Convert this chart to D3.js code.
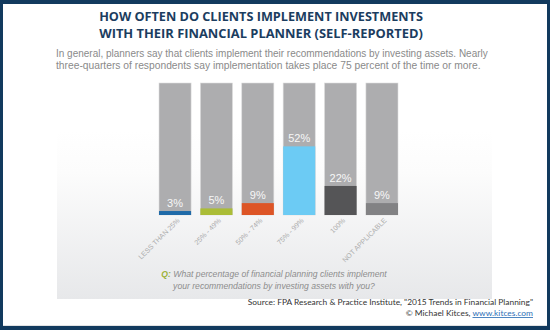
<!DOCTYPE html>
<html>
<head>
<meta charset="utf-8">
<script src="https://cdn.jsdelivr.net/npm/d3@7/dist/d3.min.js"></script>
<style>
  html, body { margin: 0; padding: 0; background: #fff; }
  svg { display: block; }
</style>
</head>
<body>
<svg id="chart" width="550" height="330"></svg>
<script>
// Survey answers and their shares (percent of respondents)
const categories = ["LESS THAN 25%", "25% - 49%", "50% - 74%", "75% - 99%", "100%", "NOT APPLICABLE"];
const values = [3, 5, 9, 52, 22, 9];
const barColors = ["#1f6aa8", "#abbd37", "#dd5526", "#6ccbf4", "#555557", "#828284"];
const titleLines = ["HOW OFTEN DO CLIENTS IMPLEMENT INVESTMENTS", "WITH THEIR FINANCIAL PLANNER (SELF-REPORTED)"];
const subtitleLines = [
  "In general, planners say that clients implement their recommendations by investing assets. Nearly",
  "three-quarters of respondents say implementation takes place 75 percent of the time or more."
];
const questionLines = ["What percentage of financial planning clients implement", "your recommendations by investing assets with you?"];
const sourceLine = "Source: FPA Research & Practice Institute, \"2015 Trends in Financial Planning\"";

const svg = d3.select("#chart");
const W = 550, H = 330;
const navy = "#123a5e";

// frame
svg.append("rect").attr("x", 0).attr("y", 0).attr("width", W).attr("height", H).attr("fill", navy);
svg.append("rect").attr("x", 3).attr("y", 4).attr("width", W - 6).attr("height", 322).attr("fill", "#c4c6c8");
svg.append("rect").attr("x", 3).attr("y", 4).attr("width", W - 6).attr("height", 321.5).attr("fill", "#fff");

// soft grey panel behind the bars
const defs = svg.append("defs");
const grad = defs.append("linearGradient").attr("id", "panelGrad").attr("x1", 0).attr("y1", 0).attr("x2", 0).attr("y2", 1);
grad.append("stop").attr("offset", "0%").attr("stop-color", "#ffffff");
grad.append("stop").attr("offset", "25%").attr("stop-color", "#fcfcfc");
grad.append("stop").attr("offset", "100%").attr("stop-color", "#e7e8ea");
svg.append("rect").attr("x", 57).attr("y", 130).attr("width", 435).attr("height", 169).attr("fill", "url(#panelGrad)");

// helper: scale the font so a text spans a given width
function fitWidth(sel, target) {
  const node = sel.node();
  const fs = parseFloat(sel.attr("font-size"));
  const w = node.getComputedTextLength();
  sel.attr("font-size", (fs * target / w).toFixed(2));
}

// title
titleLines.forEach((t, i) => {
  const tx = svg.append("text")
    .attr("x", 261).attr("y", 21 + i * 16.5)
    .attr("text-anchor", "middle")
    .attr("font-family", "'Open Sans', sans-serif")
    .attr("font-weight", 700)
    .attr("font-size", 13)
    .attr("fill", "#1b3d5f")
    .text(t);
  fitWidth(tx, 324);
});

// subtitle
subtitleLines.forEach((t, i) => {
  const tx = svg.append("text")
    .attr("x", 56).attr("y", 57 + i * 11.5)
    .attr("font-family", "'Liberation Sans', Arial, sans-serif")
    .attr("font-size", 9.5)
    .attr("fill", "#8a8a8a")
    .text(t);
  if (i === 0) fitWidth(tx, 432);
  else fitWidth(tx, 425);
});

// scales
const x = d3.scaleBand().domain(categories).range([159, 398]).paddingInner(0.225).paddingOuter(0);
const y = d3.scaleLinear().domain([0, 100]).range([215, 83]);

const g = svg.append("g");

// full-height background bars
g.selectAll("rect.bg").data(categories).join("rect")
  .attr("class", "bg")
  .attr("x", d => x(d)).attr("y", y(100))
  .attr("width", x.bandwidth()).attr("height", y(0) - y(100))
  .attr("fill", "#adadaf")
  .attr("stroke", "#dcdcdc").attr("stroke-width", 0.6);

// value bars
g.selectAll("rect.val").data(values).join("rect")
  .attr("class", "val")
  .attr("x", (d, i) => x(categories[i]))
  .attr("y", d => y(d))
  .attr("width", x.bandwidth())
  .attr("height", d => y(0) - y(d))
  .attr("fill", (d, i) => barColors[i]);

// value labels
g.selectAll("text.val").data(values).join("text")
  .attr("class", "val")
  .attr("x", (d, i) => x(categories[i]) + x.bandwidth() / 2)
  .attr("y", d => y(d) - 4)
  .attr("text-anchor", "middle")
  .attr("font-family", "'Liberation Sans', Arial, sans-serif")
  .attr("font-size", 11)
  .attr("fill", "#f7f7f7")
  .text(d => d + "%");

// rotated category labels
g.selectAll("text.cat").data(categories).join("text")
  .attr("class", "cat")
  .attr("transform", d => `translate(${x(d) + x.bandwidth() / 2 + 5},${221}) rotate(-45)`)
  .attr("text-anchor", "end")
  .attr("font-family", "'Liberation Sans', Arial, sans-serif")
  .attr("font-size", 7)
  .attr("fill", "#ababab")
  .text(d => d);

// question
const q1 = svg.append("text")
  .attr("x", 274).attr("y", 277)
  .attr("text-anchor", "middle")
  .attr("font-family", "'Liberation Sans', Arial, sans-serif")
  .attr("font-style", "italic")
  .attr("font-size", 9)
  .attr("fill", "#8d8d8d");
q1.append("tspan").attr("font-weight", 700).attr("fill", "#9db23b").text("Q: ");
q1.append("tspan").text(questionLines[0]);
fitWidth(q1, 226);
svg.append("text")
  .attr("x", 274).attr("y", 289)
  .attr("text-anchor", "middle")
  .attr("font-family", "'Liberation Sans', Arial, sans-serif")
  .attr("font-style", "italic")
  .attr("font-size", q1.attr("font-size"))
  .attr("fill", "#8d8d8d")
  .text(questionLines[1]);

// source and credit
const s1 = svg.append("text")
  .attr("x", 533).attr("y", 304.5)
  .attr("text-anchor", "end")
  .attr("font-family", "Lato, sans-serif")
  .attr("font-size", 9)
  .attr("fill", "#333")
  .text(sourceLine);
fitWidth(s1, 286);
const s2 = svg.append("text")
  .attr("x", 533).attr("y", 316)
  .attr("text-anchor", "end")
  .attr("font-family", "Lato, sans-serif")
  .attr("font-size", s1.attr("font-size"))
  .attr("fill", "#333");
s2.append("tspan").text("© Michael Kitces, ");
s2.append("tspan").attr("fill", "#2d6fb6").attr("text-decoration", "underline").text("www.kitces.com");
fitWidth(s2, 127);
</script>
</body>
</html>
